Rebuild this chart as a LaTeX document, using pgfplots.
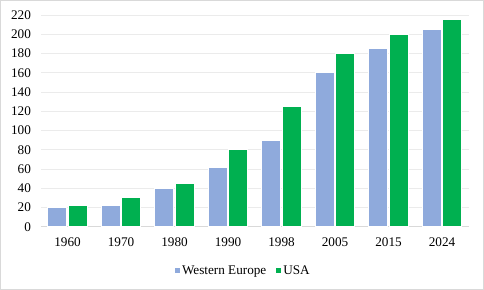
\documentclass[border=0pt]{standalone}
\usepackage{fontspec}
\setmainfont{Liberation Serif}
\usepackage{pgfplots}
\pgfplotsset{compat=1.18}
\definecolor{weu}{HTML}{8FAADC}
\definecolor{usa}{HTML}{00B050}
\definecolor{gridc}{HTML}{EBEBEB}
\definecolor{axc}{HTML}{D9D9D9}
\begin{document}
\begin{tikzpicture}
\begin{axis}[
  at={(40.75bp,63.3bp)}, anchor=south west,
  scale only axis,
  width=428bp, height=211.7bp,
  xmin=-0.5, xmax=7.5, ymin=0, ymax=220,
  xtick=data,
  xticklabels={1960,1970,1980,1990,1998,2005,2015,2024},
  ytick={0,20,...,220},
  ymajorgrids, grid style={draw=gridc, line width=0.8bp},
  axis x line*=bottom, axis y line*=left,
  x axis line style={draw=axc, line width=0.8bp},
  y axis line style={draw=none},
  major tick length=0pt,
  tick style={draw=none},
  font=\fontsize{13.2bp}{15.5bp}\selectfont,
  /pgf/number format/assume math mode=true,
  yticklabel style={xshift=-6.3bp},
  xticklabel style={yshift=-7.2bp},
  legend columns=-1,
  legend style={at={(0.4734,-0.2070)}, anchor=center, draw=none, fill=none,
    font=\fontsize{13.2bp}{15.5bp}\selectfont,
    /tikz/every even column/.append style={column sep=8bp}},
  legend image code/.code={\fill[#1,draw=none] (0bp,-2.5bp) rectangle (5bp,2.5bp);},
  clip=false,
]
\addplot[ybar, bar width=19bp, bar shift=-10.3bp, fill=weu, draw=white, line width=0.8bp]
  coordinates {(0,20) (1,22) (2,40) (3,62) (4,90) (5,160) (6,185) (7,205)};
\addplot[ybar, bar width=19bp, bar shift=10.3bp, fill=usa, draw=white, line width=0.8bp]
  coordinates {(0,22) (1,30) (2,45) (3,80) (4,125) (5,180) (6,200) (7,215)};
\legend{Western Europe, USA}
\end{axis}
\draw[axc, line width=1bp] (0.5bp,0.5bp) rectangle (483.5bp,289.5bp);
\end{tikzpicture}
\end{document}
